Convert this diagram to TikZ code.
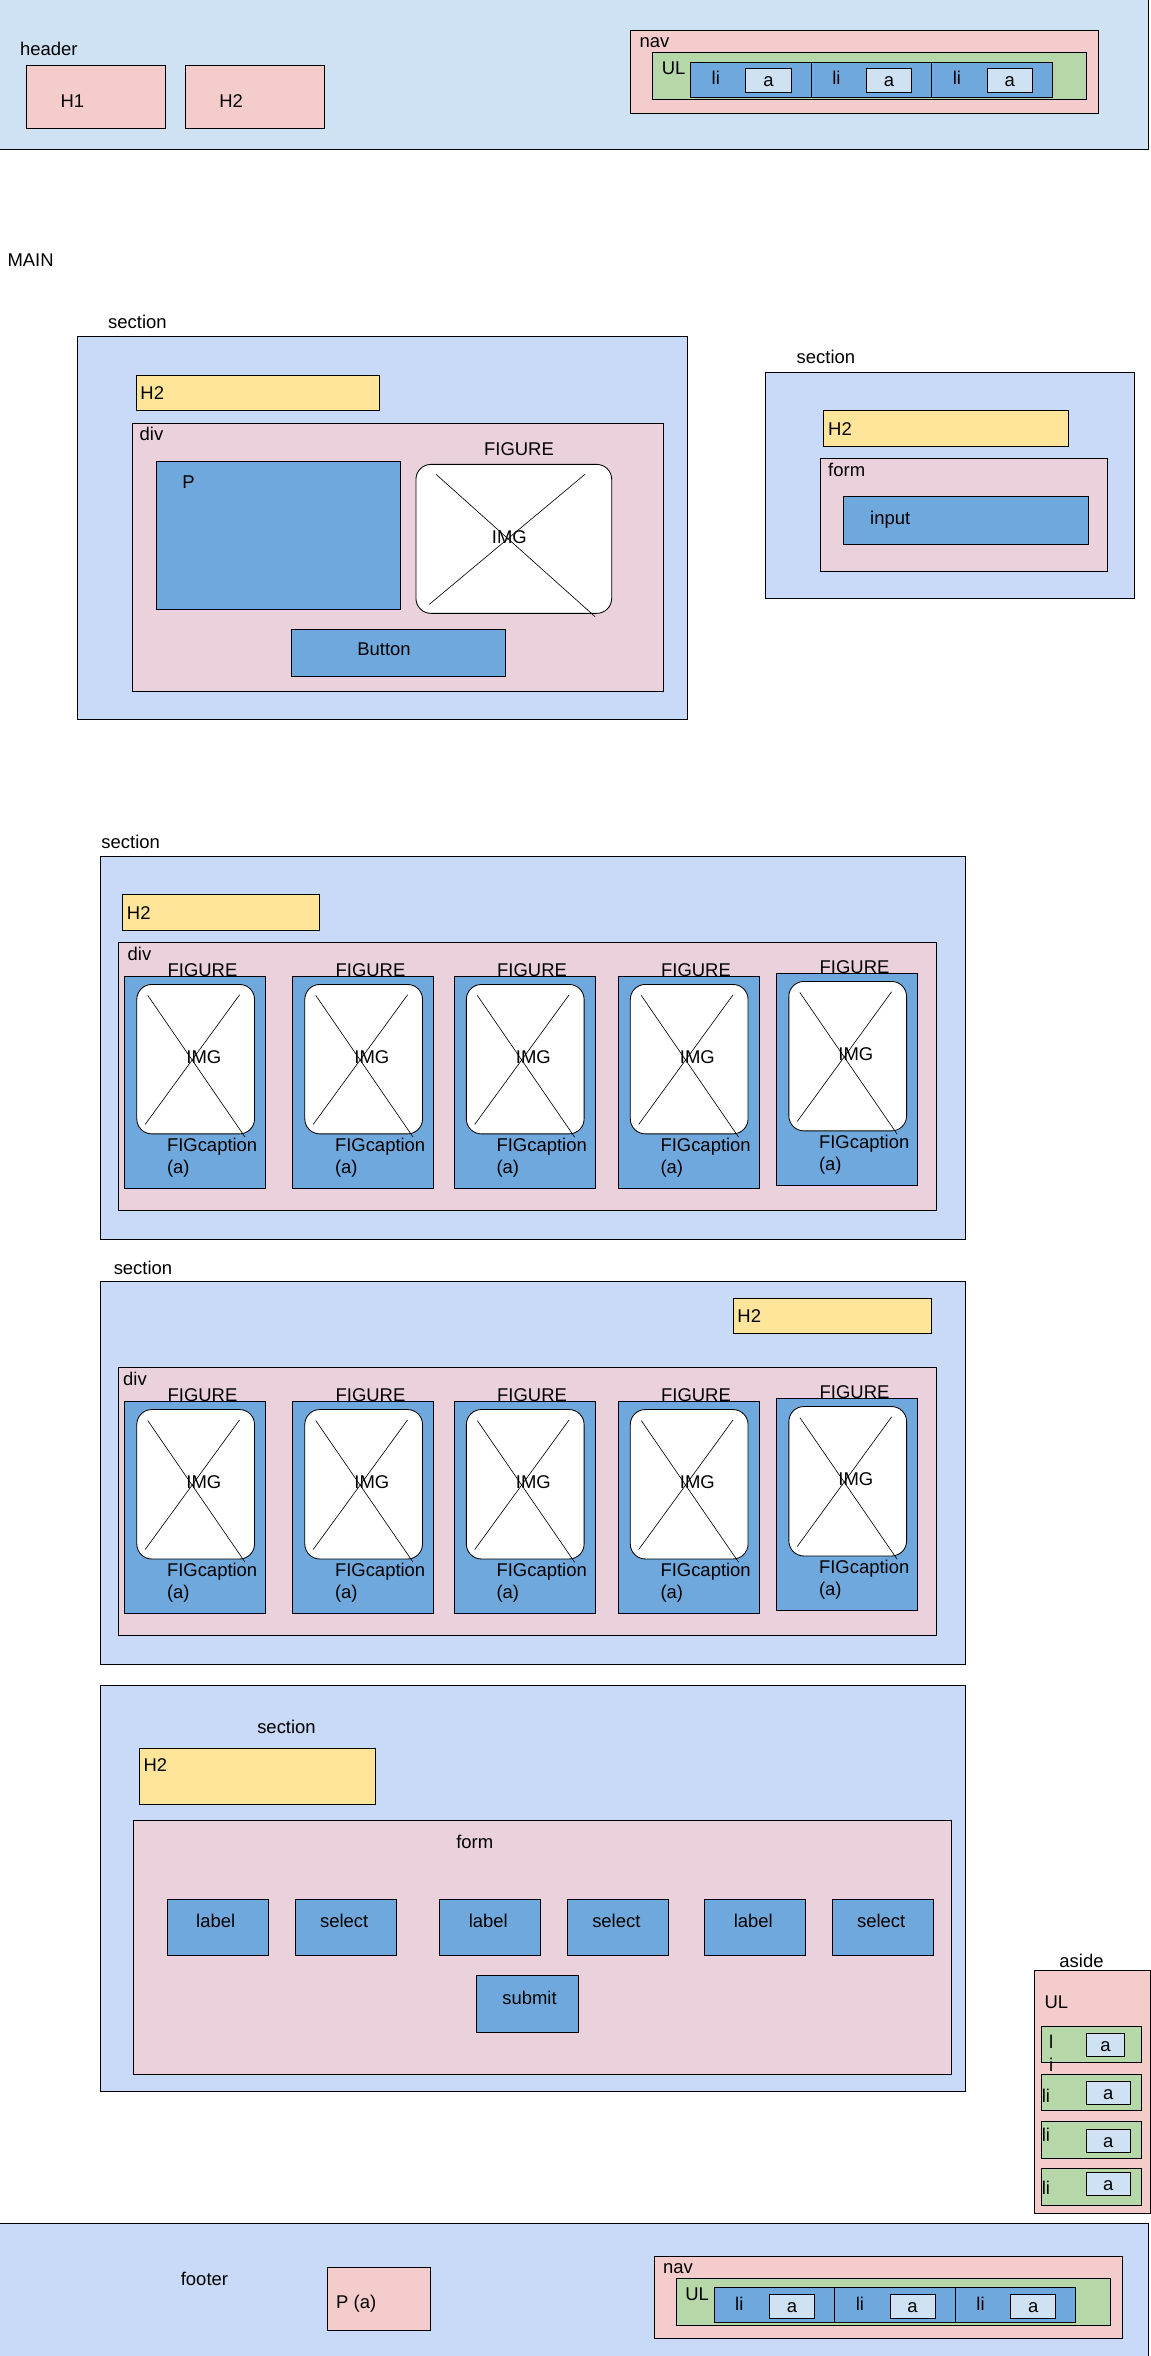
\documentclass[tikz,border=0pt]{standalone}
\usepackage{fontspec}
\setmainfont{Liberation Sans}
\usetikzlibrary{fit}
\definecolor{hdrfill}{HTML}{CFE2F3}
\definecolor{secfill}{HTML}{C9DAF8}
\definecolor{pinkfill}{HTML}{F4CCCC}
\definecolor{divfill}{HTML}{EAD1DC}
\definecolor{h2fill}{HTML}{FFE599}
\definecolor{bluefill}{HTML}{6FA8DC}
\definecolor{greenfill}{HTML}{B6D7A8}
\begin{document}
\begin{tikzpicture}[x=0.05cm,y=-0.05cm,
  boxstyle/.style={draw,line width=0.8pt,inner sep=0pt},
  imgstyle/.style={boxstyle,fill=white,rounded corners=0.5cm},
  textstyle/.style={inner sep=0pt,text height=12.5pt,text depth=0pt,font=\fontsize{17.5}{21}\selectfont},
  lefttext/.style={textstyle,anchor=west}]
\useasboundingbox (0,0) rectangle (767.33,1570.67);

% header and footer
\node[boxstyle,fill=hdrfill,fit={(-1,-1) (765.5,99.5)}] (header) {};
\node[lefttext] at (13.2,32.9) {header};
\foreach \h/\fx in {H1/17.6,H2/123.5}
{\node[boxstyle,fill=pinkfill,fit={(\fx,43.6) (\fx+92.5,85.6)}] (\h) {};
\node[lefttext] at (\fx+22.6,67.1) {\h};
}
\node[boxstyle,fill=secfill,fit={(-1,1482.2) (765.5,1575)}] (footer) {};
\node[textstyle] at (136.3,1519.4) {footer};
\node[boxstyle,fill=pinkfill,fit={(218,1511.6) (287,1553.6)}] (pfoot) {};
\node[lefttext] at (224,1534.5) {P (a)};
\foreach \n/\fx/\fy in {h/460.3/41.3,f/476/1525.1}
{\begin{scope}[shift={(\fx,\fy)}]
\node[boxstyle,fill=pinkfill,fit={(-40,-21) (272,34)}] (nav\n) {};
\node[lefttext] at (-34,-13.8) {nav};
\node[boxstyle,fill=greenfill,fit={(-25.3,-6.2) (264.2,25.3)}] (ul\n) {};
\node[lefttext] at (-19.2,4) {UL};
\foreach \i in {0,1,2}
{\node[boxstyle,fill=bluefill,fit={(80.4*\i,0) (80.4*\i+80.4,23.4)}] (li\n\i) {};
\node[lefttext] at (80.4*\i+14,10.8) {li};
\node[boxstyle,fill=hdrfill,fit={(80.4*\i+36.9,4.2) (80.4*\i+67.1,20.2)}] (a\n\i) {};
\node[textstyle] at (a\n\i) {a};
}
\end{scope}}

\node[lefttext] at (4.9,173) {MAIN};

% first row
\node[lefttext] at (72,214.5) {section};
\node[boxstyle,fill=secfill,fit={(51.5,224.4) (458,479.5)}] (secA) {};
\node[boxstyle,fill=h2fill,fit={(91,250.4) (253,273.5)}] (h2A) {};
\node[lefttext] at (93.5,262) {H2};
\node[boxstyle,fill=divfill,fit={(88,282) (442,461)}] (divA) {};
\node[lefttext] at (93,289) {div};
\node[boxstyle,fill=bluefill,fit={(104,307.5) (267,406.6)}] (pA) {};
\node[lefttext] at (121.5,321.5) {P};
\node[textstyle] at (346,299) {FIGURE};
\node[imgstyle,fit={(277.3,309.6) (407.8,408.9)}] (imgA) {};
\draw[line width=0.6pt] (290.7,316.2) -- (396.7,411.1) (390,316.2) -- (286.2,402.9);
\node[textstyle] at (339.6,358.2) {IMG};
\node[boxstyle,fill=bluefill,fit={(194.6,419.5) (336.8,451)}] (buttonA) {};
\node[textstyle] at (256,432.6) {Button};

\node[lefttext] at (531,238.2) {section};
\node[boxstyle,fill=secfill,fit={(510,248.4) (756,398.9)}] (secB) {};
\node[boxstyle,fill=h2fill,fit={(549,273.5) (712,297.5)}] (h2B) {};
\node[lefttext] at (552,286) {H2};
\node[boxstyle,fill=divfill,fit={(547,305.5) (738,380.9)}] (formB) {};
\node[lefttext] at (552,313) {form};
\node[boxstyle,fill=bluefill,fit={(562,331) (725.5,363)}] (inputB) {};
\node[lefttext] at (580,345.5) {input};

% figure sections
\foreach \s/\dy/\dx in {C/0/85,D/283.4/82}
{\node[boxstyle,fill=secfill,fit={(66.7,571+\dy) (643.5,826.3+\dy)}] (sec\s) {};
\node[boxstyle,fill=divfill,fit={(78.7,628.5+\dy) (624,806.7+\dy)}] (div\s) {};
\node[lefttext] at (\dx,635.6+\dy) {div};
\foreach \fx/\fy [count=\i] in {83/651,195/651,302.7/651,412/651,517.7/649}
{\pgfmathsetmacro\tp{\fy+\dy}
\node[boxstyle,fill=bluefill,fit={(\fx,\tp) (\fx+94.2,\tp+141.5)}] (fig\s\i) {};
\node[textstyle] at (\fx+52,\tp-4.5) {FIGURE};
\node[imgstyle,fit={(\fx+8.2,\tp+5.3) (\fx+86.7,\tp+104.9)}] (img\s\i) {};
\draw[line width=0.6pt] (\fx+15.5,\tp+12.6) -- (\fx+80.4,\tp+107.1) (\fx+76.7,\tp+12.2) -- (\fx+13.8,\tp+98.6);
\node[textstyle] at (\fx+52.9,\tp+53.7) {IMG};
\node[lefttext] at (\fx+28.2,\tp+112.2) {FIGcaption};
\node[lefttext] at (\fx+28.2,\tp+127.1) {(a)};
}
}
\node[lefttext] at (67.5,561) {section};
\node[boxstyle,fill=h2fill,fit={(81.7,596.5) (213,620.3)}] (h2C) {};
\node[lefttext] at (84.5,608.5) {H2};
\node[lefttext] at (75.7,845.5) {section};
\node[boxstyle,fill=h2fill,fit={(489.2,865.8) (621,888.9)}] (h2D) {};
\node[lefttext] at (491.5,877) {H2};

% form section
\node[boxstyle,fill=secfill,fit={(66.7,1123.3) (643.5,1394.4)}] (secE) {};
\node[textstyle] at (191,1151.5) {section};
\node[boxstyle,fill=h2fill,fit={(93,1165.8) (250.6,1202.9)}] (h2E) {};
\node[lefttext] at (95.6,1176.6) {H2};
\node[boxstyle,fill=divfill,fit={(89,1213.7) (634,1382.9)}] (formE) {};
\node[textstyle] at (316.5,1228.2) {form};
\foreach \fx/\txt [count=\i] in {111.3/label,197/select,293/label,378.4/select,469.7/label,555/select}
{\node[boxstyle,fill=bluefill,fit={(\fx,1266.2) (\fx+67.5,1303.5)}] (field\i) {};
\node[textstyle] at (\fx+32.5,1280.6) {\txt};
}
\node[boxstyle,fill=bluefill,fit={(317.7,1316.9) (385.5,1354.9)}] (submitE) {};
\node[textstyle] at (353,1331.7) {submit};

% aside
\node[textstyle] at (721,1307) {aside};
\node[boxstyle,fill=pinkfill,fit={(689.6,1313.8) (766.7,1475.6)}] (aside) {};
\node[lefttext] at (696.2,1334.4) {UL};
\foreach \fy/\aw/\ay [count=\i] in {1350.7/25.1/4.9,1382.9/28.9/4.9,1414.4/28.9/5.2,1445.8/28.9/2.6}
{\node[boxstyle,fill=greenfill,fit={(694,\fy) (760.7,\fy+24.2)}] (asli\i) {};
\node[boxstyle,fill=hdrfill,fit={(724.4,\fy+\ay) (724.4+\aw,\fy+\ay+15.3)}] (asa\i) {};
\node[textstyle] at (asa\i) {a};
}
\node[textstyle] at (700.7,1361.1) {l};
\node[textstyle] at (700.7,1376.7) {i};
\foreach \fy in {1397.3,1423.3,1458.9}
\node[lefttext] at (694.4,\fy) {li};
\end{tikzpicture}
\end{document}
